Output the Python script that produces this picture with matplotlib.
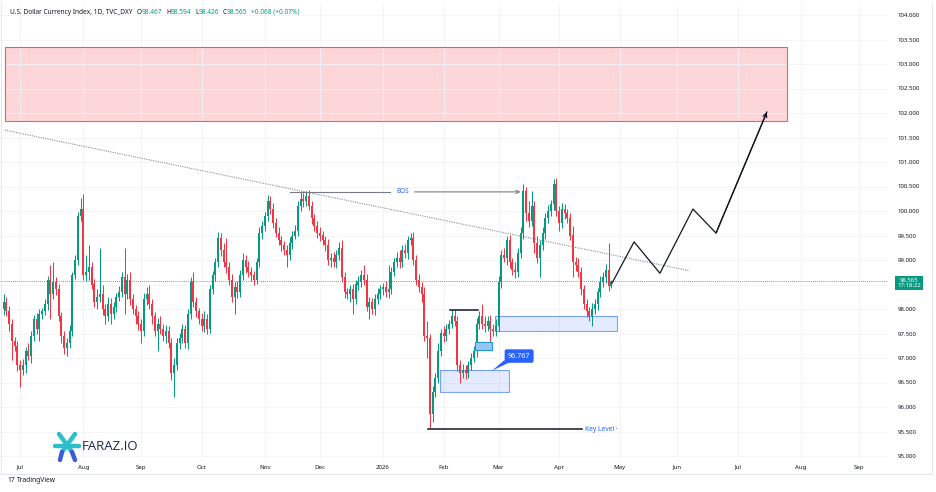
import numpy as np
import pandas as pd
import matplotlib
matplotlib.use("Agg")
import matplotlib.pyplot as plt
from matplotlib.patches import Rectangle, Polygon

plt.rcParams['font.family'] = ['Noto Sans', 'DejaVu Sans']

# ---------------- data ----------------
start_date = "2025-06-23"          # first candle (bar index -6); 2025-07-01 = bar 0
closes = [
    98.15, 97.95, 97.70, 97.35, 97.25, 96.85, 96.75, 96.85, 97.15, 97.05,
    97.45, 97.80, 97.60, 97.90, 97.95, 98.10, 98.60, 98.30, 98.55, 98.40,
    97.85, 97.45, 97.20, 97.30, 97.55, 98.70, 99.00, 99.90, 100.05, 98.70,
    98.75, 98.85, 98.50, 98.15, 98.25, 98.30, 98.00, 97.85, 98.10, 97.90,
    98.05, 98.25, 98.35, 98.65, 98.30, 98.60, 98.20, 98.00, 97.85, 97.70,
    97.55, 98.20, 98.30, 98.10, 97.85, 97.55, 97.70, 97.60, 97.45, 97.55,
    97.30, 96.70, 96.85, 97.30, 97.40, 97.60, 97.30, 97.90, 98.55, 98.15,
    97.95, 97.80, 97.65, 97.80, 97.60, 98.40, 98.70, 98.95, 99.45, 99.20,
    98.95, 98.85, 98.60, 98.25, 98.45, 98.35, 98.70, 99.00, 98.85, 98.75,
    98.70, 98.60, 98.95, 99.55, 99.70, 99.90, 100.20, 100.05, 99.75, 99.55,
    99.40, 99.30, 99.20, 99.10, 99.35, 99.50, 99.60, 100.10, 100.25, 100.20,
    100.30, 100.10, 99.85, 99.70, 99.55, 99.50, 99.40, 99.30, 99.00, 99.05,
    98.95, 99.10, 99.25, 98.65, 98.35, 98.30, 98.40, 98.20, 98.50, 98.55,
    98.70, 98.60, 98.05, 98.15, 98.00, 98.20, 98.30, 98.40, 98.45, 98.35,
    98.40, 98.75, 98.95, 99.05, 98.95, 99.20, 99.15, 99.40, 99.45, 99.00,
    98.60, 98.45, 98.30, 97.45, 97.40, 95.85, 96.30, 96.60, 97.15, 97.50,
    97.45, 97.60, 97.70, 97.85, 97.75, 96.85, 96.70, 96.75, 96.70, 96.85,
    97.00, 97.15, 97.70, 97.85, 97.70, 97.65, 97.75, 97.60, 97.55, 97.65,
    98.55, 99.10, 99.05, 99.40, 98.95, 98.80, 98.75, 99.15, 99.55, 100.40,
    99.95, 99.80, 100.10, 99.35, 99.05, 99.30, 99.55, 99.85, 100.00, 100.15,
    100.55, 100.00, 99.75, 100.05, 99.95, 99.85, 99.50, 98.95, 98.90, 98.75,
    98.40, 98.10, 97.95, 97.85, 98.00, 98.10, 98.35, 98.55, 98.65, 98.80,
    98.467, 98.565,
]
first_open = 98.00
wick_hi = [
    .15, .10, .12, .10, .08, .10, .10, .12, .08, .15,
    .10, .08, .12, .10, .08, .10, .08, .30, .40, .10,
    .12, .08, .10, .10, .12, .05, .10, .08, .22, .30,
    .35, .45, .10, .12, .15, .95, .20, .10, .15, .12,
    .10, .08, .12, .10, .60, .12, .15, .10, .08, .10,
    .10, .12, .15, .20, .10, .08, .12, .15, .10, .12,
    .10, .10, .15, .10, .12, .10, .08, .10, .10, .20,
    .10, .08, .12, .15, .10, .10, .08, .10, .12, .10,
    .15, .50, .10, .12, .10, .12, .10, .15, .10, .12,
    .10, .08, .10, .12, .10, .08, .13, .10, .12, .10,
    .12, .10, .08, .10, .12, .10, .12, .10, .15, .12,
    .10, .12, .10, .08, .10, .12, .10, .08, .12, .10,
    .12, .10, .12, .15, .10, .08, .10, .12, .10, .12,
    .10, .20, .12, .10, .08, .10, .12, .10, .08, .12,
    .50, .10, .10, .12, .15, .10, .12, .10, .10, .12,
    .10, .12, .10, .15, .30, .10, .12, .10, .15, .10,
    .15, .10, .08, .13, .12, .10, .10, .12, .10, .08,
    .10, .10, .12, .10, .25, .15, .10, .12, .10, .15,
    .12, .10, .15, .10, .12, .10, .15, .10, .12, .15,
    .10, .25, .30, .10, .15, .10, .12, .10, .12, .08,
    .10, .12, .10, .12, .10, .10, .10, .20, .12, .15,
    .10, .08, .10, .10, .12, .10, .08, .12, .10, .12,
    .55, .029,
]
wick_lo = [
    .12, .10, .15, .40, .10, .12, .35, .10, .15, .10,
    .15, .10, .12, .25, .10, .08, .12, .50, .10, .12,
    .10, .15, .12, .15, .10, .10, .08, .10, .10, .10,
    .12, .15, .10, .10, .15, .10, .12, .15, .10, .20,
    .10, .12, .08, .10, .40, .10, .12, .10, .15, .12,
    .25, .10, .12, .10, .15, .10, .40, .12, .10, .15,
    .10, .15, .50, .10, .12, .10, .10, .12, .10, .10,
    .12, .10, .10, .12, .10, .08, .10, .12, .10, .12,
    .10, .12, .10, .10, .35, .12, .10, .10, .12, .10,
    .12, .10, .08, .10, .12, .10, .10, .12, .10, .08,
    .10, .12, .10, .25, .10, .12, .08, .10, .10, .12,
    .10, .08, .12, .10, .10, .12, .10, .12, .10, .15,
    .10, .12, .10, .10, .12, .10, .15, .30, .10, .12,
    .10, .12, .10, .25, .10, .12, .10, .10, .12, .10,
    .12, .10, .08, .10, .12, .10, .10, .12, .10, .10,
    .12, .10, .15, .10, .40, .28, .15, .10, .12, .10,
    .12, .10, .10, .08, .10, .12, .20, .10, .12, .10,
    .10, .08, .12, .10, .10, .12, .10, .40, .10, .10,
    .10, .12, .10, .15, .12, .10, .12, .10, .10, .12,
    .15, .12, .10, .20, .12, .40, .10, .12, .10, .10,
    .12, .10, .15, .10, .12, .10, .10, .30, .12, .10,
    .12, .10, .12, .10, .20, .10, .12, .10, .10, .12,
    .10, .041,
]
last_price = 98.565
y_ticks = [95.0 + 0.5 * k for k in range(19)]
month_labels = ["Jul", "Aug", "Sep", "Oct", "Nov", "Dec", "2026", "Feb",
                "Mar", "Apr", "May", "Jun", "Jul", "Aug", "Sep"]

# drawings (bar index, price)
supply_zone = (-5.5, 279.0, 101.84, 103.35)
trend_line = ([-5.5, 243.5], [101.65, 98.78])
bos_level = 100.39
bos_span = (98.0, 182.0)
swing_high = (156.4, 166.5, 97.98)
key_level = (148.4, 204.4, 95.55)
blue_boxes = [(172.7, 217.1, 97.55, 97.86), (152.7, 177.8, 96.31, 96.76)]
small_box = (165.5, 171.6, 97.16, 97.33)
label_value = "96.767"
label_pos = (181.5, 97.04)
proj_x = [215.3, 223.3, 232.7, 244.7, 253.1, 271.6]
proj_y = [98.53, 99.37, 98.73, 100.04, 99.55, 102.02]

# ---------------- figure ----------------
W, H = 936, 492
fig = plt.figure(figsize=(W / 100, H / 100), dpi=100)
fig.patch.set_facecolor("white")

def fx(px):
    return px / W

def fy(py):
    return 1 - py / H

ax = fig.add_axes([0, fy(462), fx(888), fy(3) - fy(462)])
ax.set_facecolor("white")

n = len(closes)
xs = np.arange(n) - 6
c = np.array(closes)
o = np.concatenate([[first_open], c[:-1]])
hi = np.maximum(o, c) + np.array(wick_hi)
lo = np.minimum(o, c) - np.array(wick_lo)
up = c >= o
GREEN, RED = "#089981", "#F23645"
cols = np.where(up, GREEN, RED)

ax.vlines(xs, lo, hi, colors=cols, lw=0.75, zorder=3)
body = np.maximum(np.abs(c - o), 0.012)
ax.bar(xs, body, bottom=np.minimum(o, c), width=0.72, color=cols, lw=0, zorder=4)

# axes limits: Jul 1 2025 bar at x=20 px, 2.75 px / bar
ax.set_xlim(-20 / 2.75, (888 - 20) / 2.75)
ax.set_ylim(104 - (462 - 15) / 49, 104 + 12 / 49)

# month ticks
dates = pd.bdate_range("2025-06-23", "2026-09-30")
dser = pd.Series(np.arange(len(dates)) - 6, index=dates)
mt = dser.groupby([dates.year, dates.month]).first()
mt = mt[mt.index.map(lambda t: (t[0], t[1]) >= (2025, 7))].values[:len(month_labels)]
ax.set_xticks(mt)
ax.set_xticklabels(month_labels)
ax.set_yticks(y_ticks)
# the 98.500 label is hidden behind the last-price tag in the reference
ax.set_yticklabels(["" if abs(v - 98.5) < 1e-9 else f"{v:.3f}" for v in y_ticks])
ax.yaxis.tick_right()
ax.tick_params(axis="y", length=0, pad=7, labelsize=4.4, labelcolor="#131722")
ax.tick_params(axis="x", length=0, pad=2.0, labelsize=4.4, labelcolor="#131722")
ax.grid(True, color="#F0F2F5", lw=0.6, zorder=0)
for s in ax.spines.values():
    s.set_visible(False)

# supply zone
x0, x1, p0, p1 = supply_zone
ax.add_patch(Rectangle((x0, p0), x1 - x0, p1 - p0, facecolor="#F23645", alpha=0.2,
                       lw=0, zorder=1))
ax.add_patch(Rectangle((x0, p0), x1 - x0, p1 - p0, facecolor="none",
                       edgecolor="#F23645", lw=0.8, alpha=0.8, zorder=2))

# trend line
ax.plot(trend_line[0], trend_line[1], color="#7E818B", lw=0.75, ls=(0, (1, 1.2)), zorder=2)

# BOS
ax.plot([bos_span[0], 134.5], [bos_level, bos_level], color="#787B86", lw=0.8, zorder=5)
ax.annotate("", xy=(bos_span[1], bos_level), xytext=(143.5, bos_level),
            arrowprops=dict(arrowstyle="->", color="#787B86", lw=0.8,
                            shrinkA=0, shrinkB=0, mutation_scale=6), zorder=5)
ax.text(139, bos_level, "BOS", color="#2962FF", fontsize=4.6, ha="center", va="center",
        zorder=6)

# black swing high line & key level
ax.plot([swing_high[0], swing_high[1]], [swing_high[2]] * 2, color="#131722", lw=1.1, zorder=5)
ax.plot([key_level[0], key_level[1]], [key_level[2]] * 2, color="#131722", lw=1.1, zorder=5)
ax.text(key_level[1] + 1, key_level[2], "Key Level ·", color="#2962FF", fontsize=4.8,
        ha="left", va="center", zorder=6)

# blue order blocks
for (a, b, q0, q1) in blue_boxes:
    ax.add_patch(Rectangle((a, q0), b - a, q1 - q0, facecolor="#2962FF", alpha=0.12,
                           lw=0, zorder=2))
    ax.add_patch(Rectangle((a, q0), b - a, q1 - q0, facecolor="none",
                           edgecolor="#5B8DEF", lw=0.8, alpha=0.8, zorder=2))
a, b, q0, q1 = small_box
ax.add_patch(Rectangle((a, q0), b - a, q1 - q0, facecolor="#9CC4F2", edgecolor="#1E9BD7",
                       lw=0.8, zorder=5))

# callout label
ax.add_patch(Polygon([[176.0, 96.95], [179.5, 96.95], [171.6, 96.74]], closed=True,
                     facecolor="#2962FF", edgecolor="none", zorder=6))
ax.text(label_pos[0], label_pos[1], label_value, color="white", fontsize=5.2,
        fontweight="bold", ha="center", va="center", zorder=7,
        bbox=dict(boxstyle="round,pad=0.45,rounding_size=0.3", facecolor="#2962FF",
                  edgecolor="none"))

# projection path
ax.plot(proj_x, proj_y, color="#131722", lw=0.9, zorder=6)
ax.annotate("", xy=(proj_x[-1], proj_y[-1]), xytext=(proj_x[-2], proj_y[-2]),
            arrowprops=dict(arrowstyle="->", color="#131722", lw=0.9, shrinkA=0,
                            shrinkB=0, mutation_scale=7), zorder=6)

# last price line and label
ax.axhline(last_price, color=GREEN, lw=0.6, ls=(0, (1, 1.5)), zorder=2)
ax.text(1 + 21 / 888, last_price - 0.04, f"{last_price:.3f}\n17:18:22",
        transform=ax.get_yaxis_transform(), color="white", fontsize=4.3,
        ha="center", va="center", linespacing=1.0, zorder=8, clip_on=False,
        bbox=dict(boxstyle="square,pad=0.35", facecolor=GREEN, edgecolor="none"))

# header (laid out left to right with measured widths)
dark = "#131722"
parts = [("U.S. Dollar Currency Index, 1D, TVC_DXY", dark, 4.5),
         ("O", dark, 0), ("98.467", GREEN, 3.5),
         ("H", dark, 0), ("98.594", GREEN, 3.5),
         ("L", dark, 0), ("98.426", GREEN, 3.5),
         ("C", dark, 0), ("98.565", GREEN, 4.5),
         ("+0.068 (+0.07%)", GREEN, 0)]
renderer = fig.canvas.get_renderer()
cur = 10.0
for t, col, gap in parts:
    tx = fig.text(fx(cur), fy(12), t, color=col, fontsize=4.7, ha="left", va="center")
    bb = tx.get_window_extent(renderer=renderer)
    cur += bb.width + gap

# frame lines
fig.add_artist(plt.Line2D([fx(1), fx(932)], [fy(474), fy(474)], color="#E0E3EB", lw=0.6))
fig.add_artist(plt.Line2D([fx(932), fx(932)], [fy(2), fy(474)], color="#E0E3EB", lw=0.6))
fig.add_artist(plt.Line2D([fx(1), fx(1)], [fy(2), fy(474)], color="#E0E3EB", lw=0.6))

# footer TradingView
fig.text(fx(7), fy(481), "17", color="#131722", fontsize=4.8, fontweight="bold",
         ha="left", va="center")
fig.text(fx(17), fy(481), "TradingView", color="#131722", fontsize=4.8,
         ha="left", va="center")

# FARAZ.IO logo
teal, blue = "#2BC0C9", "#3D5BD9"
for (xa, ya, xb, yb, col) in [(55, 446, 79, 446, teal), (59, 434, 72, 452, teal),
                              (75, 434, 62, 452, teal), (62, 452, 60, 460, blue),
                              (72, 452, 75, 460, blue)]:
    fig.add_artist(plt.Line2D([fx(xa), fx(xb)], [fy(ya), fy(yb)], color=col, lw=3.2,
                              solid_capstyle="round"))
fig.text(fx(82), fy(447), "FARAZ.IO", color="#1B2A4A", fontsize=9.5, ha="left",
         va="center", family=["Open Sans", "DejaVu Sans"])

fig.savefig("out.png", dpi=100, facecolor="white")
